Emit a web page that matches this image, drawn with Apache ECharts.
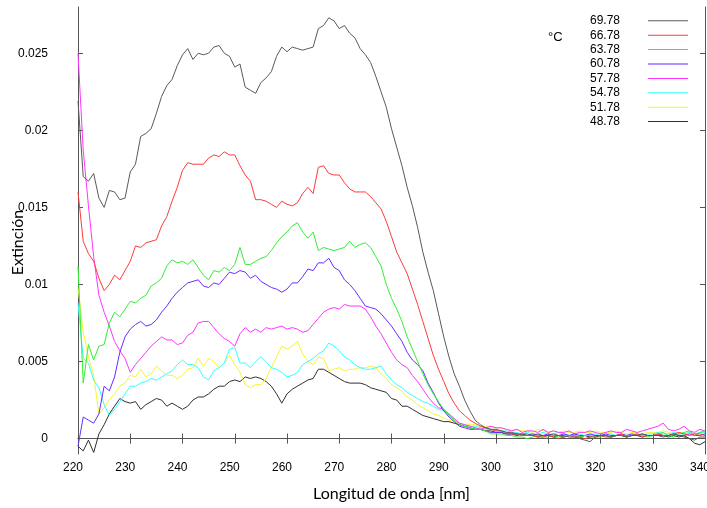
<!DOCTYPE html>
<html>
<head>
<meta charset="utf-8">
<script src="https://cdn.jsdelivr.net/npm/echarts@6/dist/echarts.min.js"></script>
<style>
html,body{margin:0;padding:0;background:#fff;}
#chart{width:707px;height:508px;}
</style>
</head>
<body>
<div id="chart"></div>
<script>
// Wavelength sample grid, 1 nm steps from 220 to 340 nm
const wavelengths = Array.from({length: 121}, (_, i) => 220 + i);
const xTicks = [220,230,240,250,260,270,280,290,300,310,320,330,340];
const yTicks = [0, 0.005, 0.01, 0.015, 0.02, 0.025];
const seriesNames = ['69.78','66.78','63.78','60.78','57.78','54.78','51.78','48.78'];
const seriesColors = ['#5a5a5a','#ff3a3a','#33ee33','#6a2cff','#ff33ff','#33ffff','#f5f533','#303030'];

const s6978 = [0.0219,0.0170,0.0167,0.0172,0.0156,0.0150,0.0161,0.0160,0.0155,0.0156,
0.0173,0.0178,0.0196,0.0198,0.0201,0.0211,0.0222,0.0229,0.0233,0.0242,
0.0249,0.0253,0.0246,0.0250,0.0249,0.0250,0.0254,0.0255,0.0250,0.0248,
0.0241,0.0243,0.0228,0.0226,0.0224,0.0231,0.0234,0.0238,0.0248,0.0254,
0.0251,0.0254,0.0253,0.0252,0.0253,0.0254,0.0266,0.0268,0.0273,0.0271,
0.0266,0.0268,0.0263,0.0260,0.0253,0.0249,0.0244,0.0235,0.0225,0.0215,
0.0201,0.0189,0.0177,0.0163,0.0151,0.0137,0.0121,0.0108,0.0096,0.0081,
0.0066,0.0053,0.0042,0.0034,0.0025,0.0018,0.0012,0.0009,0.0007,0.0006,
0.0006,
0.0005,0.0004,0.0004,0.0003,0.0003,0.0003,0.0002,0.0003,0.0002,0.0002,
0.0003,0.0002,0.0002,0.0001,0.0001,0.0000,-0.0001,-0.0002,0.0001,0.0002,
0.0002,0.0001,0.0002,0.0002,0.0001,0.0002,0.0002,0.0003,0.0002,0.0002,
0.0002,0.0001,0.0002,0.0003,0.0002,0.0001,0.0000,-0.0001,0.0001,0.0001];

const s6678 = [0.0160,0.0128,0.0120,0.0115,0.0104,0.0096,0.0100,0.0106,0.0103,0.0109,
0.0115,0.0125,0.0124,0.0127,0.0128,0.0129,0.0138,0.0144,0.0154,0.0163,
0.0174,0.0179,0.0178,0.0178,0.0178,0.0182,0.0184,0.0183,0.0186,0.0184,
0.0184,0.0177,0.0171,0.0167,0.0155,0.0155,0.0154,0.0152,0.0150,0.0154,
0.0152,0.0151,0.0153,0.0159,0.0163,0.0159,0.0176,0.0177,0.0172,0.0171,
0.0171,0.0166,0.0162,0.0160,0.0160,0.0160,0.0157,0.0153,0.0149,0.0141,
0.0131,0.0121,0.0114,0.0107,0.0097,0.0087,0.0076,0.0065,0.0054,0.0045,
0.0037,0.0029,0.0023,0.0018,0.0015,0.0012,0.0010,0.0008,0.0007,0.0006,
0.0005,
0.0005,0.0004,0.0003,0.0003,0.0002,0.0002,0.0002,0.0001,0.0001,0.0002,
0.0001,0.0000,0.0001,0.0002,0.0001,0.0001,0.0000,0.0001,0.0001,0.0002,
0.0001,0.0001,0.0002,0.0003,0.0001,0.0002,0.0003,0.0001,0.0002,0.0002,
0.0003,0.0002,0.0002,0.0003,0.0004,0.0003,0.0002,0.0003,0.0003,0.0002];

const s6378 = [0.0112,0.0036,0.0061,0.0051,0.0060,0.0061,0.0075,0.0082,0.0079,0.0084,
0.0089,0.0088,0.0091,0.0093,0.0099,0.0101,0.0104,0.0112,0.0116,0.0114,
0.0115,0.0113,0.0116,0.0111,0.0106,0.0103,0.0109,0.0108,0.0111,0.0109,
0.0113,0.0124,0.0113,0.0113,0.0115,0.0117,0.0118,0.0122,0.0127,0.0131,
0.0134,0.0138,0.0140,0.0134,0.0130,0.0134,0.0122,0.0124,0.0123,0.0122,
0.0123,0.0124,0.0128,0.0124,0.0126,0.0127,0.0124,0.0118,0.0112,0.0100,
0.0091,0.0084,0.0076,0.0066,0.0058,0.0050,0.0042,0.0035,0.0029,0.0024,
0.0019,0.0015,0.0012,0.0009,0.0008,0.0007,0.0006,0.0006,0.0005,0.0003,
0.0003,
0.0003,0.0002,0.0002,0.0001,0.0001,0.0000,0.0001,0.0002,0.0001,0.0001,
0.0002,0.0001,0.0001,0.0002,0.0002,0.0001,0.0002,0.0002,0.0001,0.0001,
0.0002,0.0001,0.0002,0.0002,0.0001,0.0002,0.0003,0.0002,0.0001,0.0002,
0.0003,0.0004,0.0002,0.0001,0.0003,0.0004,0.0005,0.0002,0.0004,0.0005];

const s6078 = [-0.0005,0.0014,0.0012,0.0010,0.0016,0.0034,0.0031,0.0040,0.0056,0.0066,
0.0071,0.0074,0.0076,0.0073,0.0074,0.0077,0.0082,0.0086,0.0091,0.0095,
0.0098,0.0101,0.0102,0.0103,0.0099,0.0098,0.0101,0.0100,0.0104,0.0108,
0.0107,0.0109,0.0108,0.0104,0.0106,0.0102,0.0100,0.0098,0.0097,0.0095,
0.0097,0.0101,0.0101,0.0105,0.0110,0.0109,0.0114,0.0114,0.0117,0.0111,
0.0109,0.0103,0.0100,0.0096,0.0091,0.0086,0.0085,0.0084,0.0081,0.0077,
0.0073,0.0068,0.0063,0.0056,0.0051,0.0048,0.0044,0.0036,0.0030,0.0023,
0.0018,0.0014,0.0011,0.0008,0.0007,0.0006,0.0006,0.0006,0.0005,0.0004,
0.0004,
0.0004,0.0003,0.0003,0.0003,0.0002,0.0002,0.0003,0.0002,0.0002,0.0003,
0.0002,0.0002,0.0003,0.0002,0.0003,0.0002,0.0002,0.0003,0.0002,0.0002,
0.0003,0.0002,0.0002,0.0003,0.0002,0.0003,0.0002,0.0003,0.0002,0.0002,
0.0003,0.0002,0.0002,0.0003,0.0002,0.0002,0.0003,0.0002,0.0002,0.0003];

const s5778 = [0.0250,0.0187,0.0151,0.0118,0.0093,0.0082,0.0073,0.0063,0.0057,0.0052,
0.0043,0.0048,0.0052,0.0056,0.0060,0.0063,0.0066,0.0064,0.0064,0.0061,
0.0062,0.0067,0.0069,0.0075,0.0076,0.0076,0.0072,0.0068,0.0065,0.0063,
0.0060,0.0068,0.0072,0.0069,0.0071,0.0069,0.0072,0.0071,0.0072,0.0073,
0.0071,0.0072,0.0071,0.0069,0.0070,0.0074,0.0078,0.0082,0.0084,0.0085,
0.0084,0.0087,0.0086,0.0086,0.0086,0.0084,0.0079,0.0073,0.0068,0.0062,
0.0056,0.0051,0.0048,0.0046,0.0041,0.0037,0.0032,0.0027,0.0023,0.0020,
0.0019,0.0016,0.0013,0.0010,0.0009,0.0008,0.0007,0.0006,0.0007,0.0008,
0.0007,
0.0007,0.0006,0.0005,0.0006,0.0004,0.0005,0.0005,0.0004,0.0006,0.0004,
0.0005,0.0004,0.0004,0.0005,0.0003,0.0004,0.0004,0.0005,0.0004,0.0003,
0.0004,0.0005,0.0004,0.0004,0.0006,0.0005,0.0004,0.0005,0.0006,0.0007,
0.0008,0.0010,0.0006,0.0005,0.0006,0.0008,0.0005,0.0004,0.0006,0.0005];

const s5478 = [0.0088,0.0052,0.0049,0.0038,0.0033,0.0022,0.0015,0.0019,0.0024,0.0029,
0.0034,0.0034,0.0036,0.0037,0.0039,0.0038,0.0040,0.0042,0.0044,0.0048,
0.0051,0.0048,0.0048,0.0046,0.0040,0.0038,0.0044,0.0046,0.0049,0.0058,
0.0059,0.0049,0.0049,0.0046,0.0050,0.0053,0.0050,0.0046,0.0045,0.0043,
0.0040,0.0041,0.0043,0.0048,0.0050,0.0052,0.0055,0.0057,0.0062,0.0060,
0.0057,0.0053,0.0051,0.0048,0.0046,0.0045,0.0045,0.0046,0.0047,0.0042,
0.0038,0.0035,0.0033,0.0030,0.0028,0.0026,0.0024,0.0023,0.0021,0.0019,
0.0018,0.0015,0.0013,0.0010,0.0009,0.0008,0.0008,0.0007,0.0006,0.0006,
0.0005,
0.0005,0.0005,0.0004,0.0004,0.0003,0.0004,0.0003,0.0003,0.0004,0.0003,
0.0003,0.0004,0.0003,0.0002,0.0003,0.0003,0.0002,0.0003,0.0003,0.0002,
0.0003,0.0003,0.0002,0.0003,0.0002,0.0003,0.0003,0.0002,0.0003,0.0003,
0.0004,0.0003,0.0003,0.0004,0.0003,0.0003,0.0004,0.0003,0.0004,0.0004];

const s5178 = [0.0098,0.0069,0.0053,0.0041,0.0016,0.0020,0.0025,0.0029,0.0034,0.0036,
0.0041,0.0040,0.0045,0.0040,0.0042,0.0047,0.0044,0.0041,0.0041,0.0039,
0.0041,0.0045,0.0046,0.0052,0.0047,0.0052,0.0050,0.0046,0.0049,0.0054,
0.0048,0.0043,0.0035,0.0033,0.0035,0.0035,0.0039,0.0046,0.0053,0.0060,
0.0058,0.0060,0.0063,0.0055,0.0050,0.0048,0.0053,0.0052,0.0044,0.0045,
0.0046,0.0044,0.0045,0.0045,0.0046,0.0046,0.0047,0.0046,0.0042,0.0039,
0.0035,0.0033,0.0031,0.0027,0.0025,0.0022,0.0020,0.0018,0.0016,0.0015,
0.0013,0.0012,0.0011,0.0010,0.0009,0.0009,0.0009,0.0008,0.0008,0.0008,
0.0007,
0.0007,0.0006,0.0005,0.0006,0.0005,0.0005,0.0004,0.0006,0.0005,0.0004,
0.0005,0.0004,0.0005,0.0004,0.0004,0.0005,0.0004,0.0004,0.0005,0.0004,
0.0004,0.0004,0.0005,0.0004,0.0003,0.0004,0.0004,0.0003,0.0004,0.0004,
0.0004,0.0005,0.0004,0.0003,0.0004,0.0003,0.0004,0.0003,0.0003,0.0004];

const s4878 = [-0.0005,-0.0008,-0.0001,-0.0009,0.0003,0.0009,0.0016,0.0021,0.0026,0.0024,
0.0023,0.0024,0.0019,0.0022,0.0024,0.0026,0.0025,0.0021,0.0023,0.0021,
0.0019,0.0021,0.0025,0.0027,0.0027,0.0029,0.0032,0.0034,0.0034,0.0037,
0.0038,0.0037,0.0040,0.0039,0.0040,0.0039,0.0037,0.0034,0.0029,0.0023,
0.0029,0.0032,0.0034,0.0036,0.0038,0.0039,0.0045,0.0045,0.0043,0.0041,
0.0039,0.0037,0.0036,0.0036,0.0036,0.0035,0.0033,0.0032,0.0031,0.0030,
0.0026,0.0025,0.0021,0.0021,0.0019,0.0017,0.0015,0.0014,0.0013,0.0012,
0.0011,0.0011,0.0010,0.0009,0.0008,0.0007,0.0006,0.0006,0.0005,0.0005,
0.0004,
0.0004,0.0003,0.0003,0.0002,0.0003,0.0002,0.0002,0.0001,0.0002,0.0002,
0.0001,0.0002,0.0001,0.0002,0.0002,0.0001,0.0002,0.0001,0.0002,0.0002,
0.0002,0.0001,0.0002,0.0002,0.0001,0.0002,0.0002,0.0001,0.0002,0.0002,
0.0002,0.0002,0.0001,0.0002,0.0001,0.0002,0.0000,-0.0003,-0.0004,-0.0002];

const seriesValues = [s6978, s6678, s6378, s6078, s5778, s5478, s5178, s4878];

const frameColor = '#555555';
const tickFont = 'Liberation Sans';

const chart = echarts.init(document.getElementById('chart'), null, {renderer: 'canvas'});

const series = seriesNames.map((name, k) => ({
  name: name,
  type: 'line',
  xAxisIndex: 0,
  yAxisIndex: 0,
  showSymbol: false,
  symbol: 'none',
  silent: true,
  clip: true,
  lineStyle: {width: 1, color: seriesColors[k]},
  itemStyle: {color: seriesColors[k]},
  data: wavelengths.map((w, i) => [w, seriesValues[k][i]])
})).reverse();

const option = {
  animation: false,
  backgroundColor: '#ffffff',
  title: {
    text: '°C',
    left: 548,
    top: 31,
    padding: 0,
    textStyle: {fontFamily: tickFont, fontSize: 13, fontWeight: 'normal', color: '#000'}
  },
  legend: {
    data: seriesNames,
    orient: 'vertical',
    align: 'right',
    right: 19,
    top: 14.8,
    padding: 0,
    icon: 'rect',
    itemWidth: 40,
    itemHeight: 1,
    itemGap: 2.4,
    selectedMode: false,
    textStyle: {fontFamily: tickFont, fontSize: 12, color: '#000', padding: [0, 23, 0, 0]}
  },
  grid: {left: 78, right: 2, top: 7, bottom: 54, containLabel: false, outerBoundsMode: 'none'},
  xAxis: [
    {
      type: 'value', position: 'bottom', min: 220, max: 340, interval: 10,
      name: 'Longitud de onda [nm]', nameLocation: 'middle', nameGap: 32,
      nameMoveOverlap: false,
      nameTextStyle: {fontFamily: 'Lato', fontSize: 16, color: '#000'},
      axisLine: {show: true, lineStyle: {color: frameColor, width: 1}},
      axisTick: {show: true, inside: true, length: 5, lineStyle: {color: frameColor}},
      axisLabel: {show: true, margin: 8, fontFamily: tickFont, fontSize: 12, color: '#000', padding: [0, 10, 0, 0]},
      splitLine: {show: false}
    },
    {
      type: 'value', position: 'top', min: 220, max: 340, interval: 10,
      axisLine: {show: true, lineStyle: {color: frameColor, width: 1}},
      axisTick: {show: true, inside: true, length: 5, lineStyle: {color: frameColor}},
      axisLabel: {show: false},
      splitLine: {show: false}
    }
  ],
  yAxis: [
    {
      type: 'value', position: 'left', min: -0.001, max: 0.028,
      name: 'Extinción', nameLocation: 'middle', nameGap: 52, nameRotate: 90,
      nameMoveOverlap: false,
      nameTextStyle: {fontFamily: 'Lato', fontSize: 16, color: '#000', padding: [0, 24, 0, 0]},
      axisLine: {show: true, lineStyle: {color: frameColor, width: 1}},
      axisTick: {show: true, inside: true, length: 5, customValues: yTicks, lineStyle: {color: frameColor}},
      axisLabel: {show: true, margin: 30, customValues: yTicks, fontFamily: tickFont, fontSize: 12, color: '#000'},
      splitLine: {show: false}
    },
    {
      type: 'value', position: 'right', min: -0.001, max: 0.028,
      axisLine: {show: true, lineStyle: {color: frameColor, width: 1}},
      axisTick: {show: true, inside: true, length: 5, customValues: yTicks, lineStyle: {color: frameColor}},
      axisLabel: {show: false},
      splitLine: {show: false}
    }
  ],
  series: series
};

chart.setOption(option);
</script>
</body>
</html>
